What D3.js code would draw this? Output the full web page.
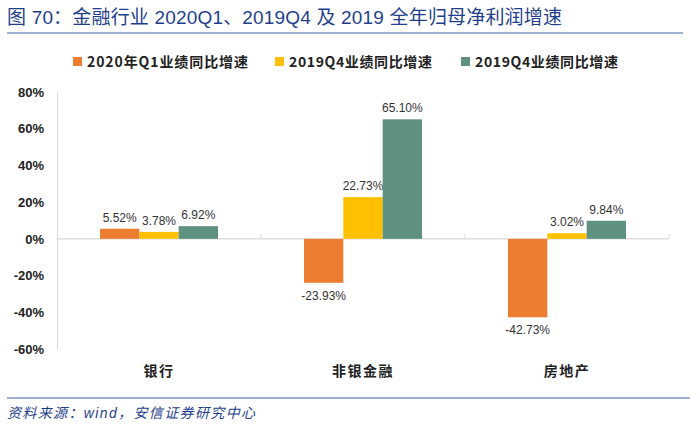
<!DOCTYPE html>
<html>
<head>
<meta charset="utf-8">
<script src="https://cdn.jsdelivr.net/npm/d3@7"></script>
<style>
  body { margin: 0; background: #fff; }
  text { font-family: Arial, "Liberation Sans", "Noto Sans CJK SC", sans-serif; }
</style>
</head>
<body>
<div id="container"></div>
<script>
const categories = ["银行", "非银金融", "房地产"];
const seriesNames = ["2020年Q1业绩同比增速", "2019Q4业绩同比增速", "2019Q4业绩同比增速"];
const q1_2020 = [5.52, -23.93, -42.73];
const q4_2019 = [3.78, 22.73, 3.02];
const fy_2019 = [6.92, 65.10, 9.84];
const yTicks = [80, 60, 40, 20, 0, -20, -40, -60];
const colors = ["#ED7D31", "#FFC000", "#5E9180"];

const series = [q1_2020, q4_2019, fy_2019];

const W = 700, H = 432;
const svg = d3.select("#container").append("svg")
    .attr("width", W)
    .attr("height", H);

// title
svg.append("text")
    .attr("x", 7).attr("y", 24)
    .attr("fill", "#1F3F8C")
    .attr("textLength", 555)
    .attr("lengthAdjust", "spacing")
    .style("font-size", "19px")
    .style("font-family", "Arial, 'Noto Sans CJK SC', sans-serif")
    .text("图 70：金融行业 2020Q1、2019Q4 及 2019 全年归母净利润增速");

svg.append("line")
    .attr("x1", 7).attr("x2", 683)
    .attr("y1", 33).attr("y2", 33)
    .attr("stroke", "#7F96C4").attr("stroke-width", 1.5);

// legend
const legendX = [73, 275, 461];
const legendW = [161, 143, 143];
const legend = svg.append("g");
seriesNames.forEach((name, i) => {
    const g = legend.append("g").attr("transform", `translate(${legendX[i]},62)`);
    g.append("rect").attr("x", 0).attr("y", -5).attr("width", 9).attr("height", 9).attr("fill", colors[i]);
    g.append("text")
        .attr("x", 14).attr("y", 5)
        .attr("fill", "#222")
        .attr("textLength", legendW[i])
        .attr("lengthAdjust", "spacing")
        .style("font-size", "14px")
        .style("font-weight", "bold")
        .style("font-family", "'Noto Sans CJK SC', sans-serif")
        .text(name);
});

// scales
const x0 = d3.scaleBand()
    .domain(categories)
    .range([57, 669]);

const x1 = d3.scaleBand()
    .domain([0, 1, 2])
    .range([0, 118]);

const y = d3.scaleLinear()
    .domain([-60, 80])
    .range([349, 92]);

// y axis
const yAxis = svg.append("g")
    .attr("transform", "translate(57,0)")
    .call(d3.axisLeft(y).tickValues(yTicks).tickSize(0).tickPadding(13).tickFormat(d => d + "%"));
yAxis.select(".domain").attr("stroke", "#D9D9D9");
yAxis.selectAll("text")
    .attr("fill", "#222")
    .style("font-size", "13px")
    .style("font-weight", "bold");

// zero line with category ticks
svg.append("line")
    .attr("x1", 57).attr("x2", 669)
    .attr("y1", y(0)).attr("y2", y(0))
    .attr("stroke", "#D9D9D9").attr("stroke-width", 1.2);
svg.append("g")
    .selectAll("line")
    .data(categories)
    .enter().append("line")
    .attr("x1", d => x0(d) + x0.bandwidth())
    .attr("x2", d => x0(d) + x0.bandwidth())
    .attr("y1", y(0) - 5).attr("y2", y(0))
    .attr("stroke", "#D9D9D9");

// bars
const groups = svg.append("g")
    .selectAll("g")
    .data(categories)
    .enter().append("g")
    .attr("transform", d => `translate(${x0(d) + (x0.bandwidth() - 118) / 2},0)`);

groups.each(function(cat, ci) {
    const g = d3.select(this);
    series.forEach((s, si) => {
        const v = s[ci];
        g.append("rect")
            .attr("x", x1(si))
            .attr("width", x1.bandwidth())
            .attr("y", y(Math.max(0, v)))
            .attr("height", Math.abs(y(v) - y(0)))
            .attr("fill", colors[si]);
        g.append("text")
            .attr("x", x1(si) + x1.bandwidth() / 2)
            .attr("y", v >= 0 ? y(v) - 7 : y(v) + 17)
            .attr("text-anchor", "middle")
            .attr("fill", "#333")
            .style("font-size", "12px")
            .text(v.toFixed(2) + "%");
    });
});

// category labels
svg.append("g")
    .selectAll("text")
    .data(categories)
    .enter().append("text")
    .attr("x", d => x0(d) + x0.bandwidth() / 2)
    .attr("y", 376)
    .attr("text-anchor", "middle")
    .attr("fill", "#222")
    .style("font-size", "14px")
    .style("letter-spacing", "1.5px")
    .style("font-weight", "bold")
    .style("font-family", "'Noto Sans CJK SC', sans-serif")
    .text(d => d);

// footer
svg.append("line")
    .attr("x1", 7).attr("x2", 690)
    .attr("y1", 398).attr("y2", 398)
    .attr("stroke", "#7F96C4").attr("stroke-width", 1.5);

svg.append("text")
    .attr("x", 7).attr("y", 418)
    .attr("fill", "#1F3F8C")
    .attr("textLength", 248)
    .attr("lengthAdjust", "spacing")
    .style("font-size", "14px")
    .style("font-style", "italic")
    .text("资料来源：wind，安信证券研究中心");
</script>
</body>
</html>
